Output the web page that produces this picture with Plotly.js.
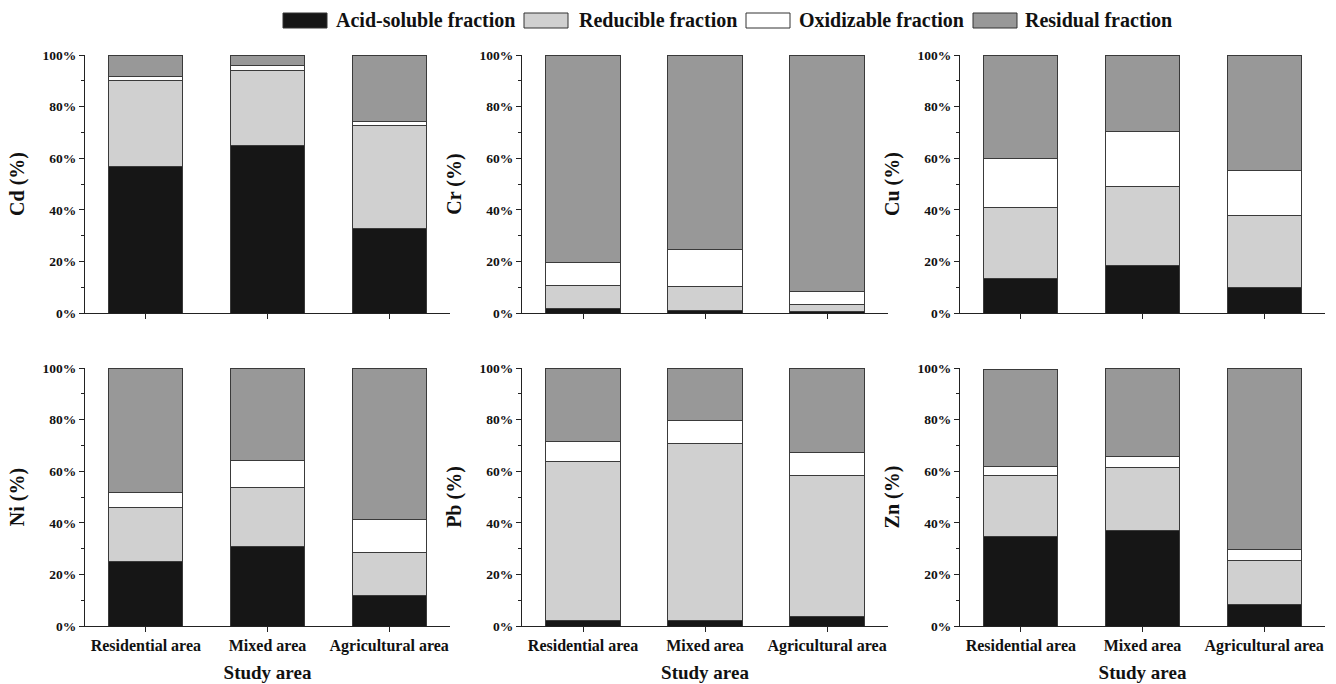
<!DOCTYPE html>
<html>
<head>
<meta charset="utf-8">
<script src="https://cdn.plot.ly/plotly-3.0.1.min.js"></script>
<style>html,body{margin:0;padding:0;background:#fff;}#chart{width:1336px;height:684px;}</style>
</head>
<body>
<div id="chart"></div>
<script>
// ---- data ----
const categories = ['Residential area', 'Mixed area', 'Agricultural area'];
const metals = ['Cd', 'Cr', 'Cu', 'Ni', 'Pb', 'Zn'];
const fractionNames = ['Acid-soluble fraction', 'Reducible fraction', 'Oxidizable fraction', 'Residual fraction'];
// percentages per metal (order of metals), per area (order of categories)
const acidSoluble = [[56.9, 64.8, 32.6], [1.8, 0.9, 0.4], [13.3, 18.6, 10.0], [25.0, 30.8, 11.9], [2.3, 2.3, 3.5], [34.8, 36.9, 8.4]];
const reducible   = [[33.1, 29.2, 40.0], [8.9, 9.2, 3.0], [27.4, 30.3, 27.9], [20.8, 23.0, 16.7], [61.6, 68.6, 54.8], [23.4, 24.5, 16.8]];
const oxidizable  = [[1.8, 2.0, 1.7], [8.7, 14.7, 4.9], [19.2, 21.5, 17.3], [5.9, 10.5, 12.8], [7.5, 8.9, 8.8], [3.8, 4.4, 4.6]];
const residual    = [[8.2, 4.0, 25.7], [80.6, 75.2, 91.7], [40.1, 29.6, 44.8], [48.3, 35.7, 58.6], [28.6, 20.2, 32.9], [37.6, 34.2, 70.2]];
const yTickVals = [0, 20, 40, 60, 80, 100];
const yTickText = ['0%', '20%', '40%', '60%', '80%', '100%'];

// ---- styles ----
const fractionData = [acidSoluble, reducible, oxidizable, residual];
const fractionColors = ['#161616', '#d0d0d0', '#ffffff', '#989898'];
const FONT = 'Liberation Serif, Times New Roman, serif';
const W = 1336, H = 684;
const xPix = [[85, 450], [522, 888], [960, 1325]];
const yPix = [[55, 313], [368, 626]]; // [top(100%), bottom(0%)]
// custom legend geometry (pixels)
const legSwatchLeft = [283, 524, 746, 973];
const legTextLeft = [334, 577, 797, 1023];
const legSwatchW = 44, legTop = 13, legBottom = 28;

const traces = [];
const shapes = [];
const annotations = [];
const layout = {
  width: W, height: H,
  margin: {l: 0, r: 0, t: 0, b: 0},
  paper_bgcolor: '#fff', plot_bgcolor: '#fff',
  barmode: 'stack', bargap: 0.39,
  showlegend: false,
  font: {family: FONT, color: '#111'},
  shapes: shapes, annotations: annotations
};

fractionNames.forEach((nm, k) => {
  shapes.push({type: 'rect', xref: 'paper', yref: 'paper',
    x0: legSwatchLeft[k] / W, x1: (legSwatchLeft[k] + legSwatchW) / W,
    y0: 1 - legBottom / H, y1: 1 - legTop / H,
    fillcolor: fractionColors[k], line: {color: '#333', width: 1}});
  annotations.push({xref: 'paper', yref: 'paper', x: legTextLeft[k] / W, y: 1 - 20.5 / H,
    xanchor: 'left', yanchor: 'middle', showarrow: false, text: nm,
    font: {family: FONT, size: 20, color: '#111', weight: 'bold'}});
});

metals.forEach((m, i) => {
  const row = Math.floor(i / 3), col = i % 3;
  const idx = i + 1;
  const xa = idx === 1 ? 'x' : 'x' + idx;
  const ya = idx === 1 ? 'y' : 'y' + idx;
  fractionData.forEach((fd, k) => {
    traces.push({
      type: 'bar', x: categories, y: fd[i], name: fractionNames[k],
      xaxis: xa, yaxis: ya, legendgroup: fractionNames[k], showlegend: false,
      marker: {color: fractionColors[k], line: {color: '#3a3a3a', width: 1}},
      hoverinfo: 'y'
    });
  });
  const xKey = idx === 1 ? 'xaxis' : 'xaxis' + idx;
  const yKey = idx === 1 ? 'yaxis' : 'yaxis' + idx;
  layout[xKey] = {
    domain: [xPix[col][0] / W, xPix[col][1] / W],
    anchor: ya, type: 'category',
    showline: true, linecolor: '#222', linewidth: 1,
    ticks: 'outside', ticklen: 5, tickcolor: '#222',
    showgrid: false, zeroline: false,
    showticklabels: row === 1,
    tickfont: {family: FONT, size: 16, color: '#111', weight: 'bold'},
    title: row === 1 ? {text: 'Study area', font: {family: FONT, size: 19, color: '#111', weight: 'bold'}, standoff: 11} : {text: ''},
    fixedrange: true
  };
  layout[yKey] = {
    domain: [1 - yPix[row][1] / H, 1 - yPix[row][0] / H],
    anchor: xa, range: [0, 100],
    tickvals: yTickVals, ticktext: yTickText,
    showline: true, linecolor: '#222', linewidth: 1,
    ticks: 'outside', ticklen: 5, tickcolor: '#222',
    minor: {dtick: 10, ticks: 'outside', ticklen: 3, tickcolor: '#222'},
    showgrid: false, zeroline: false,
    tickfont: {family: FONT, size: 13.5, color: '#111', weight: 'bold'},
    title: {text: m + ' (%)', font: {family: FONT, size: 20, color: '#111', weight: 'bold'}, standoff: 12},
    fixedrange: true
  };
});

Plotly.newPlot('chart', traces, layout, {displayModeBar: false, staticPlot: true});
</script>
</body>
</html>
